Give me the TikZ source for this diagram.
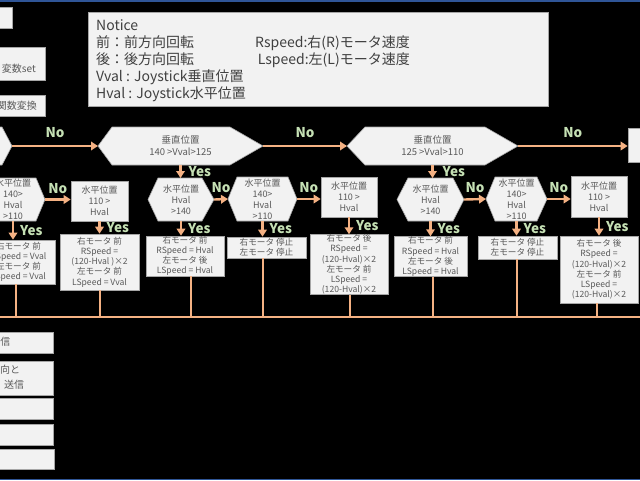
\documentclass[tikz,border=0pt]{standalone}
\usepackage{fontspec}
\setmainfont{Noto Sans CJK JP}
\usepackage{tikz}
\usetikzlibrary{arrows.meta,calc}

\definecolor{flowc}{HTML}{F4B183}
\definecolor{labc}{HTML}{C5E0B4}
\definecolor{boxfill}{HTML}{F2F2F2}
\definecolor{boxline}{HTML}{A6A6A6}
\definecolor{ink}{HTML}{595959}
\definecolor{ink2}{HTML}{404040}
\definecolor{barc}{HTML}{2F5597}

\tikzset{
  box/.style={draw=boxline,fill=boxfill,line width=0.6pt,inner sep=0pt},
  hexa/.style={draw=boxline,fill=boxfill,line width=0.6pt},
  dtxt/.style={text=ink,align=center,inner sep=0pt,font=\fontsize{9.5}{12}\selectfont},
  htxt/.style={text=ink,align=center,inner sep=0pt,font=\fontsize{9}{11}\selectfont},
  atxt/.style={text=ink,align=center,font=\fontsize{8.6}{10.2}\selectfont},
  side/.style={text=ink,inner sep=0pt,font=\fontsize{10}{15}\selectfont},
  ntxt/.style={text=ink2,inner sep=0pt,font=\fontsize{14}{17}\selectfont},
  flow/.style={draw=flowc,line width=2.4pt,-{Triangle[length=7pt,width=8.5pt]}},
  link/.style={draw=flowc,line width=2pt},
  yes/.style={text=labc,inner sep=1pt,font=\fontsize{13.5}{13.5}\selectfont\bfseries},
}

\begin{document}
\begin{tikzpicture}[x=1pt,y=-1pt]
\useasboundingbox (0,0) rectangle (640,480);
\fill[black] (0,0) rectangle (640,480);
\clip (0,0) rectangle (640,480);
\fill[barc] (0,0) rectangle (640,1.5);
\fill[barc] (0,478.5) rectangle (640,480);

\node[box,minimum width=22,minimum height=21] (tl) at (1,17.5) {};
\node[box,minimum width=85,minimum height=33] (setbox) at (2.5,63.5) {};
\node[side,anchor=east] (settxt) at (36,69) {変数set};
\node[box,minimum width=85,minimum height=21] (funbox) at (2.5,105.5) {};
\node[side,anchor=east] (funtxt) at (37,106) {関数変換};

\node[box,minimum width=460,minimum height=94] (notice) at (318,59) {};
\node[ntxt,anchor=north west,align=left] (notel) at (96,19) {Notice\\前：前方向回転\\後：後方向回転\\Vval : Joystick垂直位置\\Hval : Joystick水平位置};
\node[ntxt,anchor=north east,align=right] (noter) at (410,36) {Rspeed:右(R)モータ速度\\Lspeed:左(L)モータ速度};

\foreach \n/\xw/\xl/\xr/\xe/\yt/\yb/\txt in {d0/-60/-45/2/12/127/165/{},
    d1/98/112/230/263/127/165/{垂直位置\\140 >Vval>125},
    d2/347/365/485/518/127/165/{垂直位置\\125 >Vval>110}}{
  \draw[hexa] (\xw,{(\yt+\yb)/2}) -- (\xl,\yt) -- (\xr,\yt) -- (\xe,{(\yt+\yb)/2}) -- (\xr,\yb) -- (\xl,\yb) -- cycle;
  \coordinate (\n-w) at (\xw,{(\yt+\yb)/2});
  \coordinate (\n-e) at (\xe,{(\yt+\yb)/2});
  \coordinate (\n-s) at ({(\xw+\xe)/2},\yb);
  \node[dtxt] (\n) at ({(\xw+\xe)/2},{(\yt+\yb)/2}) {\txt};
}
\node[box,minimum width=40,minimum height=34] (rbox) at (648,145) {};

\foreach \n/\xw/\xl/\xr/\xe/\yt/\yb/\txt in {h0/-19/-10/36/45/178/221/{水平位置\\140>\\Hval\\>110},
    ha/148/158/202/214/178/221/{水平位置\\Hval\\>140},
    hb/228/237/288/297/177/221/{水平位置\\140>\\Hval\\>110},
    hc/397/408/453/464/178/221/{水平位置\\Hval\\>140},
    hd/486/495/537/547/177/221/{水平位置\\140>\\Hval\\>110}}{
  \draw[hexa] (\xw,{(\yt+\yb)/2}) -- (\xl,\yt) -- (\xr,\yt) -- (\xe,{(\yt+\yb)/2}) -- (\xr,\yb) -- (\xl,\yb) -- cycle;
  \coordinate (\n-w) at (\xw,{(\yt+\yb)/2});
  \coordinate (\n-e) at (\xe,{(\yt+\yb)/2});
  \coordinate (\n-n) at ({(\xw+\xe)/2},\yt);
  \coordinate (\n-s) at ({(\xw+\xe)/2},\yb);
  \node[htxt] (\n) at ({(\xw+\xe)/2},{(\yt+\yb)/2}) {\txt};
}
\node[box,htxt,minimum width=57,minimum height=40] (b1) at (99.5,201) {水平位置\\110 >\\Hval};
\node[box,htxt,minimum width=56,minimum height=40] (b2) at (349,197) {水平位置\\110 >\\Hval};
\node[box,htxt,minimum width=56,minimum height=41] (b3) at (599,196.5) {水平位置\\110 >\\Hval};

\node[box,atxt,minimum width=73,minimum height=44] (a0) at (18.5,262) {右モータ 前\\RSpeed = Vval\\左モータ 前\\LSpeed = Vval};
\node[box,atxt,minimum width=79,minimum height=56] (a1) at (99.5,262) {右モータ 前\\RSpeed =\\(120-Hval )×2\\左モータ 前\\LSpeed = Vval};
\node[box,atxt,minimum width=78,minimum height=40] (a2) at (185,256) {右モータ 前\\RSpeed = Hval\\左モータ 後\\LSpeed = Hval};
\node[box,atxt,minimum width=79,minimum height=21] (a3) at (266.5,247.5) {右モータ 停止\\左モータ 停止};
\node[box,atxt,minimum width=78,minimum height=59] (a4) at (349,264.5) {右モータ 後\\RSpeed =\\(120-Hval)×2\\左モータ 前\\LSpeed =\\(120-Hval)×2};
\node[box,atxt,minimum width=73,minimum height=39] (a5) at (430.5,256.5) {右モータ 前\\RSpeed = Hval\\左モータ 後\\LSpeed = Hval};
\node[box,atxt,minimum width=79,minimum height=23] (a6) at (517.5,247.5) {右モータ 停止\\左モータ 停止};
\node[box,atxt,minimum width=78,minimum height=67] (a7) at (599,269.5) {右モータ 後\\RSpeed =\\(120-Hval)×2\\左モータ 前\\LSpeed =\\(120-Hval)×2};

\draw[flow] (d0-e) -- (d1-w) node[midway,above=6pt,yes] {No};
\draw[flow] (d1-e) -- (d2-w) node[midway,above=6pt,yes] {No};
\draw[flow] (d2-e) -- (d2-e -| rbox.west) node[midway,above=6pt,yes] {No};
\draw[flow] (d1-s) -- (d1-s |- ha-n) node[midway,right=6pt,yes] {Yes};
\draw[flow] (d2-s) -- (d2-s |- hc-n) node[midway,right=8pt,yes] {Yes};

\draw[flow] (h0-e) -- (h0-e -| b1.west) node[midway,above=4pt,yes] {No};
\draw[flow] (ha-e) -- (hb-w) node[midway,above=4pt,yes] {No};
\draw[flow] (hb-e) -- (hb-e -| b2.west) node[midway,above=4pt,yes] {No};
\draw[flow] (hc-e) -- (hd-w) node[midway,above=4pt,yes] {No};
\draw[flow] (hd-e) -- (hd-e -| b3.west) node[midway,above=4pt,yes] {No};

\foreach \f/\g in {h0-s/a0,b1.south/a1,ha-s/a2,hb-s/a3,b2.south/a4,hc-s/a5,hd-s/a6,b3.south/a7}{
  \draw[flow] (\f) -- (\f |- \g.north) node[midway,right=5pt,yes] {Yes};
}

\coordinate (busw) at (-5,317);
\coordinate (buse) at (645,317);
\draw[link] (busw) -- (buse);
\foreach \n/\dx in {a0/-3,a1/0.5,a2/6,a3/-3.5,a4/1,a5/2.5,a6/-0.5,a7/-2}{
  \draw[link] ([xshift=\dx pt]\n.south) -- ([xshift=\dx pt]\n.south |- busw);
}

\node[box,minimum width=93,minimum height=21] (lb1) at (6.5,342.5) {};
\node[side,anchor=east] (lb1t) at (10.5,342) {信};
\node[box,minimum width=93,minimum height=34] (lb2) at (6.5,378) {};
\node[side,anchor=west,align=left,font=\fontsize{10}{15}\selectfont] (lb2t) at (0,377.5) {向と\\\hspace{4pt}送信};
\node[box,minimum width=93,minimum height=21] (lb3) at (6.5,408.5) {};
\node[box,minimum width=93,minimum height=21] (lb4) at (6.5,434.5) {};
\node[box,minimum width=94,minimum height=20] (lb5) at (7,459) {};
\end{tikzpicture}
\end{document}
